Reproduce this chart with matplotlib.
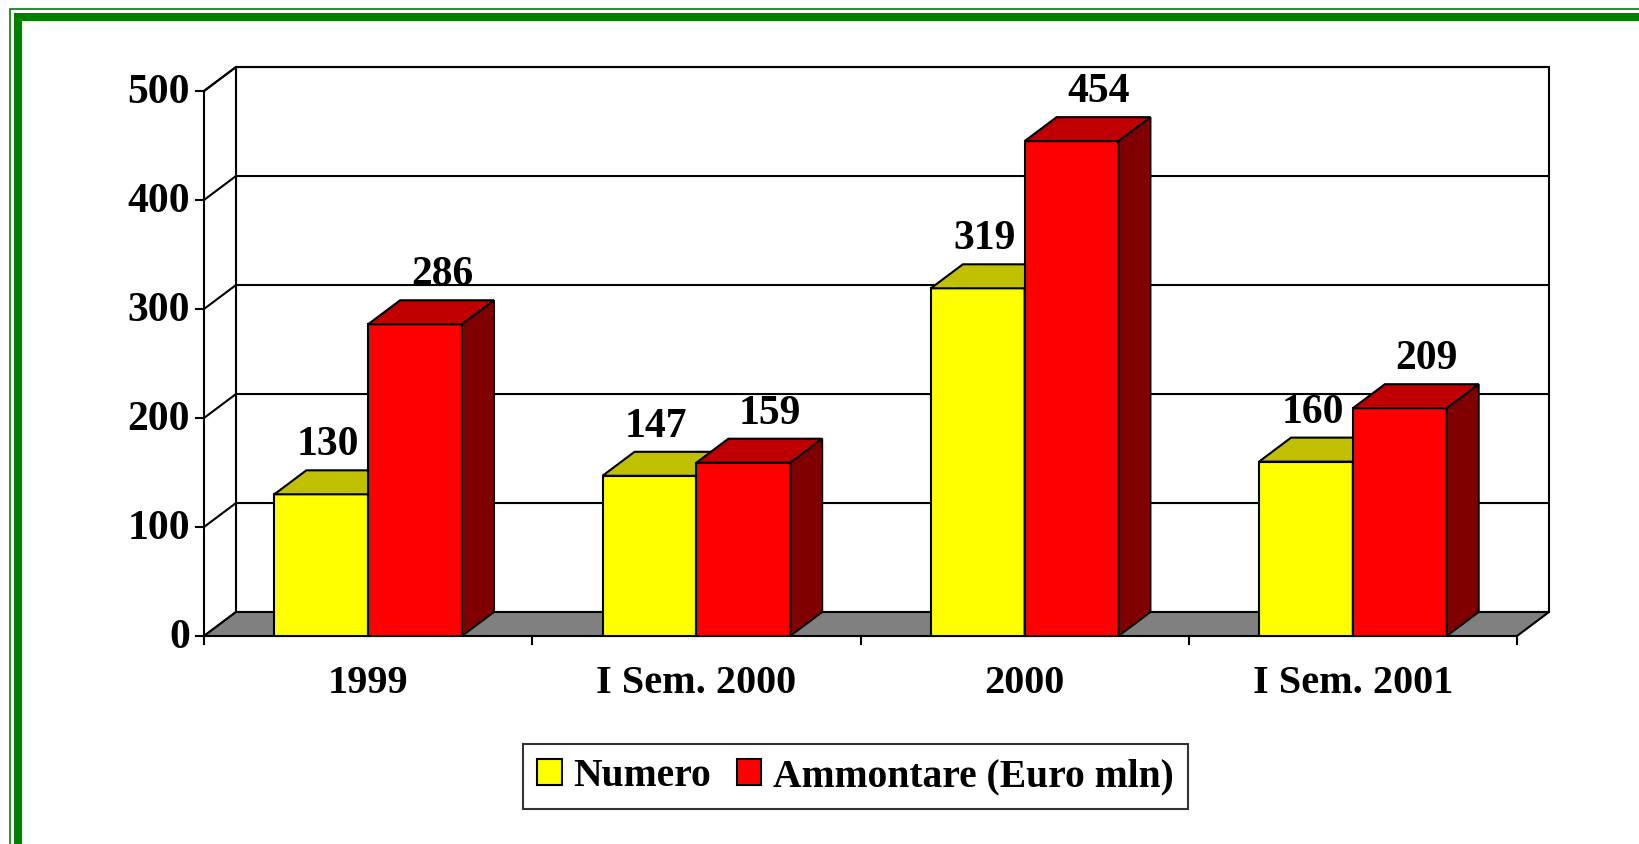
import matplotlib
matplotlib.use('Agg')
import matplotlib.pyplot as plt
from matplotlib.patches import Polygon, Rectangle

categories = ['1999', 'I Sem. 2000', '2000', 'I Sem. 2001']
numero = [130, 147, 319, 160]
ammontare = [286, 159, 454, 209]
y_ticks = [0, 100, 200, 300, 400, 500]

plt.rcParams['font.family'] = ['Liberation Serif', 'DejaVu Serif']
plt.rcParams['font.weight'] = 'bold'

W, H = 1639, 844
fig = plt.figure(figsize=(W / 100, H / 100), dpi=100)
fig.patch.set_facecolor('white')

# axes placed so that the front plane of the 3D box matches the reference
ax = fig.add_axes([204 / W, 208 / H, 1313 / W, 545 / H])
ax.set_xlim(-0.5, len(categories) - 0.5)
ax.set_ylim(0, y_ticks[-1])
ax.axis('off')

dx, dy = 0.0975, 22.0          # depth offset of the pseudo-3D box
x0, x1 = -0.5, len(categories) - 0.5
ymax = y_ticks[-1]
lw = 1.5
w = 1 / 3.5                    # bar width (gap width 150%)


def poly(pts, fc, z=3):
    ax.add_patch(Polygon(pts, closed=True, facecolor=fc, edgecolor='black',
                         lw=lw, zorder=z, clip_on=False, joinstyle='miter'))


# walls
poly([(x0 + dx, dy), (x1 + dx, dy), (x1 + dx, ymax + dy), (x0 + dx, ymax + dy)], 'white', 1)
poly([(x0, 0), (x0 + dx, dy), (x0 + dx, ymax + dy), (x0, ymax)], 'white', 1)
for v in y_ticks[1:]:
    ax.plot([x0, x0 + dx, x1 + dx], [v, v + dy, v + dy], color='black', lw=lw,
            zorder=2, clip_on=False, solid_joinstyle='miter')

# floor
poly([(x0, 0), (x1, 0), (x1 + dx, dy), (x0 + dx, dy)], '#808080', 2)

# y ticks and labels
for v in y_ticks:
    ax.plot([x0 - 0.024, x0], [v, v], color='black', lw=lw, zorder=2, clip_on=False)
    ax.text(x0 - 0.043, v - 2, str(v), ha='right', va='center', fontsize=30,
            fontweight='bold')

# x ticks and labels
for b in range(len(categories) + 1):
    ax.plot([x0 + b, x0 + b], [0, -7.5], color='black', lw=lw, zorder=2, clip_on=False)
for i, c in enumerate(categories):
    ax.text(i, -44, c, ha='center', va='center', fontsize=29, fontweight='bold')


def bars3d(xs, vals, front, top, side, label, lab_dx):
    ax.bar(xs, vals, width=w, color=front, edgecolor='black', lw=lw,
           zorder=3, label=label, clip_on=False)
    for x, v in zip(xs, vals):
        l, r = x - w / 2, x + w / 2
        poly([(l, v), (r, v), (r + dx, v + dy), (l + dx, v + dy)], top)
        poly([(r, 0), (r + dx, dy), (r + dx, v + dy), (r, v)], side)
        ax.text(x + lab_dx, v + dy + 23, str(v), ha='center', va='center',
                fontsize=30, fontweight='bold', zorder=6)


xs = list(range(len(categories)))
bars3d([i - w / 2 for i in xs], numero, '#FFFF00', '#C0C000', '#808000',
       'Numero', 0.02)
bars3d([i + w / 2 for i in xs], ammontare, '#FF0000', '#C00000', '#800000',
       'Ammontare (Euro mln)', 0.082)

leg = fig.legend(loc='center', bbox_to_anchor=(855.5 / W, 1 - 776.6 / H), ncol=2,
                 fontsize=28.5, frameon=True, fancybox=False, edgecolor='black',
                 handlelength=0.62, handleheight=0.62, handletextpad=0.3,
                 columnspacing=0.65, borderpad=0.35, borderaxespad=0)
leg.get_frame().set_linewidth(1.5)

# green frame
fig.add_artist(Rectangle((18 / W, -4 / H), (1700 - 18) / W, (848 - 17) / H,
                         transform=fig.transFigure, fill=False,
                         edgecolor='#008000', lw=5.8))
fig.add_artist(Rectangle((10 / W, -20 / H), (1700 - 10) / W, (864 - 9) / H,
                         transform=fig.transFigure, fill=False,
                         edgecolor='#008000', lw=1.2))

fig.savefig('out.png', dpi=100)
